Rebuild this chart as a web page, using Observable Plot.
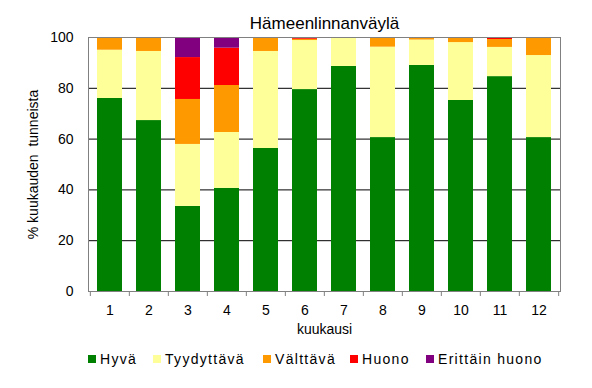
<!DOCTYPE html>
<html>
<head>
<meta charset="utf-8">
<script src="https://cdn.jsdelivr.net/npm/d3@7"></script>
<script src="https://cdn.jsdelivr.net/npm/@observablehq/plot@0.6"></script>
<style>
  html, body { margin: 0; padding: 0; background: #fff; }
  #wrap { position: relative; width: 592px; height: 388px; font-family: "Liberation Sans", Arial, sans-serif; }
  #legend { position: absolute; left: 0; top: 351px; width: 592px; height: 16px; font-size: 14px; letter-spacing: 1.3px; color: #000; }
  .item { position: absolute; top: 0; height: 16px; display: flex; align-items: center; white-space: nowrap; }
  .sw { width: 8px; height: 8px; margin-right: 4px; }
</style>
</head>
<body>
<div id="wrap"><div id="legend"></div></div>
<script>
const title = "Hämeenlinnanväylä";
const yLabel = "% kuukauden\u00a0 tunneista";
const xLabel = "kuukausi";
const months = ["1","2","3","4","5","6","7","8","9","10","11","12"];
const seriesNames = ["Hyvä", "Tyydyttävä", "Välttävä", "Huono", "Erittäin huono"];
const seriesColors = ["#008000", "#FFFF99", "#FF9900", "#FF0000", "#800080"];
const hyva        = [76.0, 67.3, 33.5, 40.6, 56.3, 79.5, 88.6, 60.6, 89.0, 75.2, 84.6, 60.6];
const tyydyttava  = [19.0, 27.2, 24.4, 22.0, 38.2, 19.3, 11.3, 35.6, 10.0, 22.8, 11.5, 32.3];
const valttava    = [ 5.0,  5.5, 17.7, 18.5,  5.5,  0.5,  0.1,  3.8,  0.6,  2.0,  3.1,  7.1];
const huono       = [ 0.0,  0.0, 16.5, 14.7,  0.0,  0.7,  0.0,  0.0,  0.0,  0.0,  0.8,  0.0];
const erittain    = [ 0.0,  0.0,  7.9,  4.2,  0.0,  0.0,  0.0,  0.0,  0.4,  0.0,  0.0,  0.0];
const yTicks = [0, 20, 40, 60, 80, 100];
const gridTicks = [20, 40, 60, 80];

const seriesValues = [hyva, tyydyttava, valttava, huono, erittain];
const data = [];
seriesNames.forEach((s, si) => {
  months.forEach((m, mi) => {
    data.push({month: m, series: s, value: seriesValues[si][mi]});
  });
});

const W = 592, H = 388, ML = 88, MR = 32, MT = 37, MB = 97;
const step = (W - ML - MR) / months.length;
const font = "Liberation Sans, Arial, sans-serif";

const chart = Plot.plot({
  width: W,
  height: H,
  marginLeft: ML,
  marginRight: MR,
  marginTop: MT,
  marginBottom: MB,
  style: {fontFamily: font, fontSize: "14px", color: "#000", background: "#fff", overflow: "visible"},
  x: {domain: months, paddingInner: 0.365, paddingOuter: 0.1825, label: null},
  y: {domain: [0, 100], label: null},
  color: {domain: seriesNames, range: seriesColors},
  marks: [
    Plot.ruleY(gridTicks, {stroke: "#000", strokeWidth: 1}),
    Plot.barY(data, {x: "month", y: "value", fill: "series"}),
    Plot.frame({stroke: "#808080", strokeWidth: 1}),
    Plot.axisY({ticks: yTicks, tickSize: 0, tickPadding: 15, fontSize: 14, label: null, style: {letterSpacing: "0.5px"}}),
    Plot.axisX({tickSize: 0, tickPadding: 14, fontSize: 14, label: null, style: {letterSpacing: "0.8px"}}),
    Plot.axisX({text: null, tickSize: 5, dx: -step / 2, stroke: "#808080", label: null}),
    Plot.axisX({ticks: [months[months.length - 1]], text: null, tickSize: 5, dx: step / 2, stroke: "#808080", label: null}),
    Plot.text([yLabel], {frameAnchor: "left", textAnchor: "middle", lineAnchor: "middle", dx: -55, rotate: -90, fontSize: 14, style: {letterSpacing: "0.5px"}}),
    Plot.text([xLabel], {frameAnchor: "bottom", lineAnchor: "middle", dy: 38, fontSize: 14, style: {letterSpacing: "1px"}}),
    Plot.text([title], {frameAnchor: "top", lineAnchor: "middle", dy: -14, fontSize: 17})
  ]
});
chart.style.position = "absolute";
chart.style.left = "0";
chart.style.top = "0";
document.getElementById("wrap").prepend(chart);

const legendLefts = [88, 153, 263, 350, 426];
const legend = document.getElementById("legend");
seriesNames.forEach((s, i) => {
  const item = document.createElement("div");
  item.className = "item";
  item.style.left = legendLefts[i] + "px";
  const sw = document.createElement("div");
  sw.className = "sw";
  sw.style.background = seriesColors[i];
  const tx = document.createElement("span");
  tx.textContent = s;
  item.appendChild(sw);
  item.appendChild(tx);
  legend.appendChild(item);
});
</script>
</body>
</html>
